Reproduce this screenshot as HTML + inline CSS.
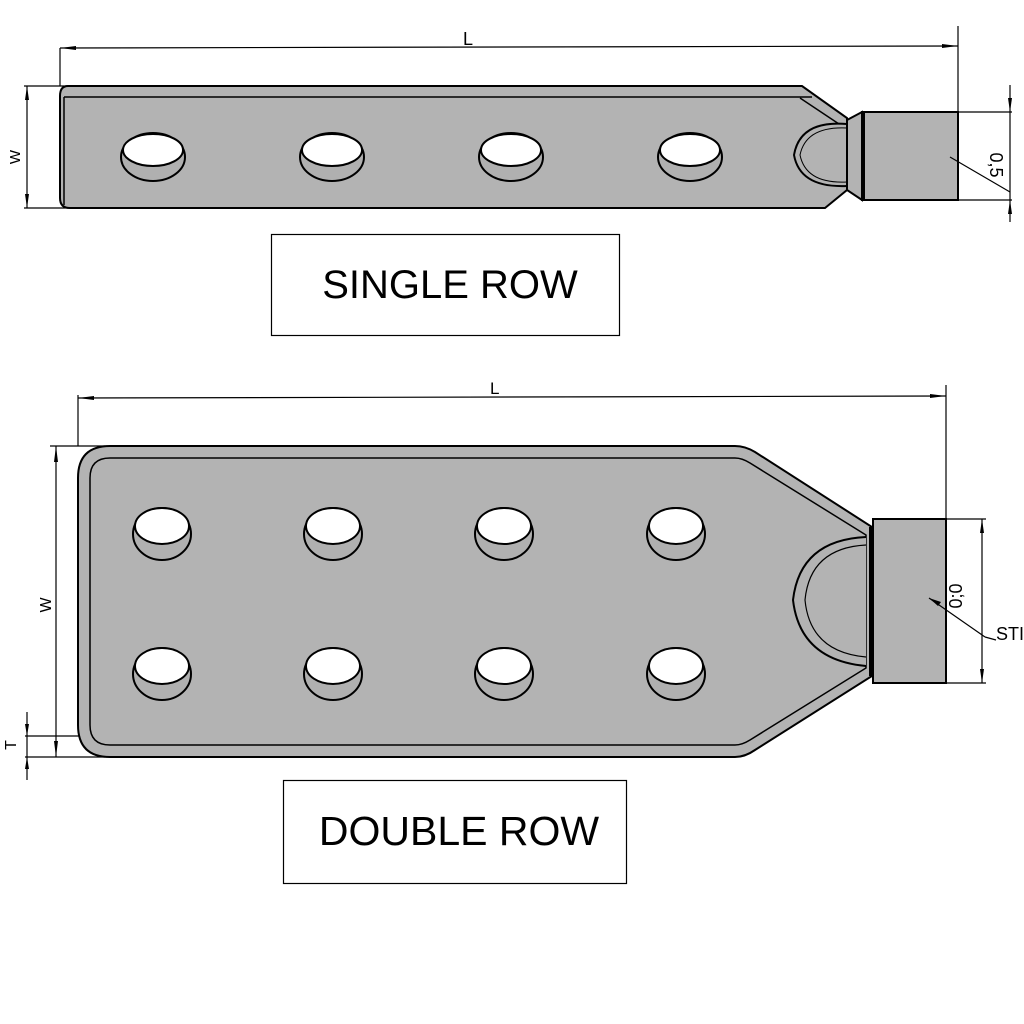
<!DOCTYPE html>
<html><head><meta charset="utf-8"><style>
html,body{margin:0;padding:0;background:#fff;}
svg{display:block;}
text{font-family:"Liberation Sans",sans-serif;fill:#000;}
</style></head><body>
<svg width="1024" height="1024" viewBox="0 0 1024 1024" xmlns="http://www.w3.org/2000/svg">
<defs>
<g id="holeS">
<ellipse cx="0" cy="0" rx="32" ry="24" fill="#b0b0b0" stroke="#000" stroke-width="2"/>
<ellipse cx="0" cy="-7" rx="30" ry="16" fill="#fff" stroke="#000" stroke-width="2"/>
</g>
<g id="holeD">
<ellipse cx="0" cy="0" rx="29" ry="26" fill="#b0b0b0" stroke="#000" stroke-width="2"/>
<ellipse cx="0" cy="-8" rx="27" ry="18" fill="#fff" stroke="#000" stroke-width="2"/>
</g>
</defs>

<!-- ===== SINGLE ROW ===== -->
<line x1="60" y1="48" x2="958" y2="46" stroke="#000" stroke-width="1.2"/>
<polygon points="60,48 76,46 76,50" fill="#000"/>
<polygon points="958,46 942,44 942,48" fill="#000"/>
<line x1="60" y1="48" x2="60" y2="86" stroke="#000" stroke-width="1.2"/>
<line x1="958" y1="26" x2="958" y2="112" stroke="#000" stroke-width="1.2"/>
<text x="463" y="45" font-size="18">L</text>
<line x1="24" y1="86" x2="75" y2="86" stroke="#000" stroke-width="1.2"/>
<line x1="24" y1="208" x2="85" y2="208" stroke="#000" stroke-width="1.2"/>
<line x1="27" y1="86" x2="27" y2="208" stroke="#000" stroke-width="1.2"/>
<polygon points="27,86 25,100 29,100" fill="#000"/>
<polygon points="27,208 25,194 29,194" fill="#000"/>
<text transform="translate(20,157) rotate(-90)" font-size="15" text-anchor="middle">W</text>
<path d="M68,86 L802,86 L847,118 L847,190 L825,208 L70,208 Q60,208 60,198 L60,96 Q60,86 68,86 Z" fill="#b3b3b3" stroke="#000" stroke-width="2"/>
<line x1="64" y1="97" x2="812" y2="97" stroke="#000" stroke-width="1.5"/>
<line x1="64" y1="97" x2="64" y2="205" stroke="#000" stroke-width="1.5"/>
<line x1="800" y1="98" x2="842" y2="126" stroke="#000" stroke-width="1.5"/>
<path d="M847,124 Q800,120 794,155 Q800,188 847,186" fill="#b3b3b3" stroke="#000" stroke-width="2"/>
<path d="M847,128 Q806,126 800,155 Q806,184 847,182" fill="none" stroke="#000" stroke-width="1"/>
<polygon points="847,120 862,112 862,200 847,190" fill="#b3b3b3" stroke="#000" stroke-width="2"/>
<rect x="862" y="112" width="96" height="88" fill="#b3b3b3" stroke="#000" stroke-width="2"/>
<line x1="864" y1="112" x2="864" y2="200" stroke="#000" stroke-width="2"/>
<use href="#holeS" x="153" y="157"/>
<use href="#holeS" x="332" y="157"/>
<use href="#holeS" x="511" y="157"/>
<use href="#holeS" x="690" y="157"/>
<line x1="958" y1="112" x2="1012" y2="112" stroke="#000" stroke-width="1.2"/>
<line x1="958" y1="200" x2="1012" y2="200" stroke="#000" stroke-width="1.2"/>
<line x1="1010" y1="85" x2="1010" y2="222" stroke="#000" stroke-width="1.2"/>
<polygon points="1010,112 1008,98 1012,98" fill="#000"/>
<polygon points="1010,200 1008,214 1012,214" fill="#000"/>
<line x1="950" y1="157" x2="1010" y2="192" stroke="#000" stroke-width="1.2"/>
<text transform="translate(990,165) rotate(90)" font-size="18" text-anchor="middle">0,5</text>
<rect x="271.5" y="234.5" width="348" height="101" fill="#fff" stroke="#000" stroke-width="1.2"/>
<text x="450" y="298" font-size="40" text-anchor="middle">SINGLE ROW</text>

<!-- ===== DOUBLE ROW ===== -->
<line x1="78" y1="398" x2="946" y2="396" stroke="#000" stroke-width="1.2"/>
<polygon points="78,398 94,396 94,400" fill="#000"/>
<polygon points="946,396 930,394 930,398" fill="#000"/>
<line x1="78" y1="395" x2="78" y2="446" stroke="#000" stroke-width="1.2"/>
<line x1="946" y1="385" x2="946" y2="519" stroke="#000" stroke-width="1.2"/>
<text x="490" y="394" font-size="17">L</text>
<line x1="50" y1="446" x2="105" y2="446" stroke="#000" stroke-width="1.2"/>
<line x1="25" y1="757" x2="105" y2="757" stroke="#000" stroke-width="1.2"/>
<line x1="56" y1="446" x2="56" y2="757" stroke="#000" stroke-width="1.2"/>
<polygon points="56,446 54,462 58,462" fill="#000"/>
<polygon points="56,757 54,741 58,741" fill="#000"/>
<text transform="translate(51,605) rotate(-90)" font-size="16" text-anchor="middle">W</text>
<line x1="25" y1="736" x2="128" y2="736" stroke="#000" stroke-width="1.2"/>
<line x1="27" y1="712" x2="27" y2="780" stroke="#000" stroke-width="1.2"/>
<polygon points="27,736 25,724 29,724" fill="#000"/>
<polygon points="27,757 25,769 29,769" fill="#000"/>
<text transform="translate(16,745) rotate(-90)" font-size="16" text-anchor="middle">T</text>
<path d="M110,446 L735,446 Q745,446 755,452 L872,527 L872,676 L755,750 Q745,757 735,757 L110,757 Q78,757 78,725 L78,478 Q78,446 110,446 Z" fill="#b3b3b3" stroke="#000" stroke-width="2"/>
<path d="M110,458 L735,458 Q742,458 750,463 L866,535 L866,668 L750,740 Q742,745 735,745 L110,745 Q90,745 90,725 L90,478 Q90,458 110,458 Z" fill="none" stroke="#000" stroke-width="1.5"/>
<path d="M866,537 Q800,540 793,600 Q800,660 866,666" fill="#b3b3b3" stroke="#000" stroke-width="2"/>
<path d="M866,545 Q810,548 805,600 Q810,652 866,657" fill="none" stroke="#000" stroke-width="1.2"/>
<rect x="873" y="519" width="73" height="164" fill="#b3b3b3" stroke="#000" stroke-width="2"/>
<line x1="870" y1="527" x2="870" y2="676" stroke="#000" stroke-width="2"/>
<use href="#holeD" x="162" y="534"/>
<use href="#holeD" x="333" y="534"/>
<use href="#holeD" x="504" y="534"/>
<use href="#holeD" x="676" y="534"/>
<use href="#holeD" x="162" y="674"/>
<use href="#holeD" x="333" y="674"/>
<use href="#holeD" x="504" y="674"/>
<use href="#holeD" x="676" y="674"/>
<line x1="946" y1="519" x2="986" y2="519" stroke="#000" stroke-width="1.2"/>
<line x1="946" y1="683" x2="986" y2="683" stroke="#000" stroke-width="1.2"/>
<line x1="982" y1="519" x2="982" y2="683" stroke="#000" stroke-width="1.2"/>
<polygon points="982,519 980,533 984,533" fill="#000"/>
<polygon points="982,683 980,669 984,669" fill="#000"/>
<line x1="929" y1="598" x2="985" y2="637" stroke="#000" stroke-width="1.2"/>
<line x1="985" y1="637" x2="996" y2="640" stroke="#000" stroke-width="1.2"/>
<polygon points="929,598 941,602 938,606" fill="#000"/>
<text transform="translate(962,596) rotate(-90)" font-size="18" text-anchor="middle">0;0</text>
<text x="996" y="640" font-size="18">STI</text>
<rect x="283.5" y="780.5" width="343" height="103" fill="#fff" stroke="#000" stroke-width="1.2"/>
<text x="459" y="845" font-size="41" text-anchor="middle">DOUBLE ROW</text>
</svg>
</body></html>
